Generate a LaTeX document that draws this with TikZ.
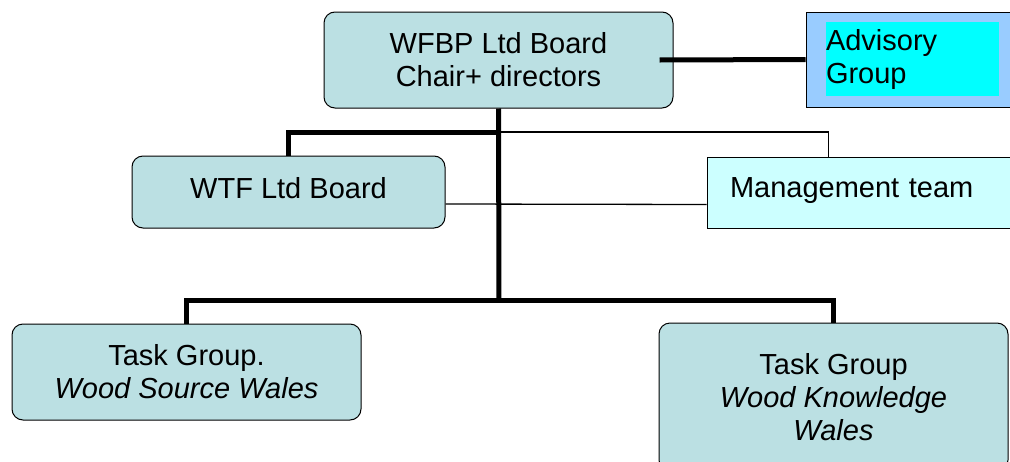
\documentclass[tikz,border=0pt]{standalone}
\usepackage{fontspec}
\setmainfont{Liberation Sans}
\usepackage{xcolor}
\usepackage{tikz}
\usetikzlibrary{positioning}

\definecolor{boardfill}{RGB}{187,224,227}
\definecolor{teamfill}{RGB}{204,255,255}
\definecolor{advfill}{RGB}{153,204,255}
\definecolor{advtext}{RGB}{0,255,255}

\tikzset{
    board/.style={draw, line width=1pt, rounded corners=11pt, fill=boardfill, align=center, inner sep=0pt},
    thickline/.style={line width=5pt},
    thinline/.style={line width=1.3pt}
}

\begin{document}
\begin{tikzpicture}[x=1pt, y=-1pt, font=\fontsize{29}{33}\selectfont]
            \path[use as bounding box, clip] (0,0) rectangle (1010,461);
            \node[board, minimum width=349pt, minimum height=96pt] (wfbp) at (498.5,60) {WFBP Ltd Board\\Chair+ directors};
            \node[draw, line width=1pt, fill=advfill, minimum width=224pt, minimum height=95pt] (adv) at (918,59.5) {};
            \node[fill=advtext, inner sep=0pt, text width=173pt, minimum height=74pt, align=left] (advtxt) at (912.5,59) {Advisory\\Group};
            \node[board, minimum width=313pt, minimum height=72pt, text depth=9pt] (wtf) at (288.5,192) {WTF Ltd Board};
            \node[draw, line width=1pt, fill=teamfill, inner xsep=23pt, inner ysep=0pt, text width=277pt, minimum height=71pt, text depth=9pt, align=left] (mgmt) at (868.5,192.5) {Management team};
            \node[board, minimum width=349pt, minimum height=96pt] (task1) at (186.5,372) {Task Group.\\\textit{Wood Source Wales}};
            \node[board, minimum width=349pt, minimum height=148pt] (task2) at (833.5,397) {Task Group\\\textit{Wood Knowledge}\\\textit{Wales}};
            \coordinate (split) at (499,132);
            \coordinate (hub) at (499,300);
            \draw[thinline] (split) -| ([xshift=-40pt]mgmt.north);
            \draw[thinline] ([yshift=-12pt]wtf.east) -- ([yshift=-12pt]mgmt.west);
            \draw[thickline] ([xshift=-14pt]wfbp.east) -- (adv.west);
            \draw[thickline] (wfbp.south) -- (hub);
            \draw[thickline] (split) -| (wtf.north);
            \draw[thickline] (hub) -| (task1.north);
            \draw[thickline] (hub) -| (task2.north);
        \end{tikzpicture}
\end{document}
